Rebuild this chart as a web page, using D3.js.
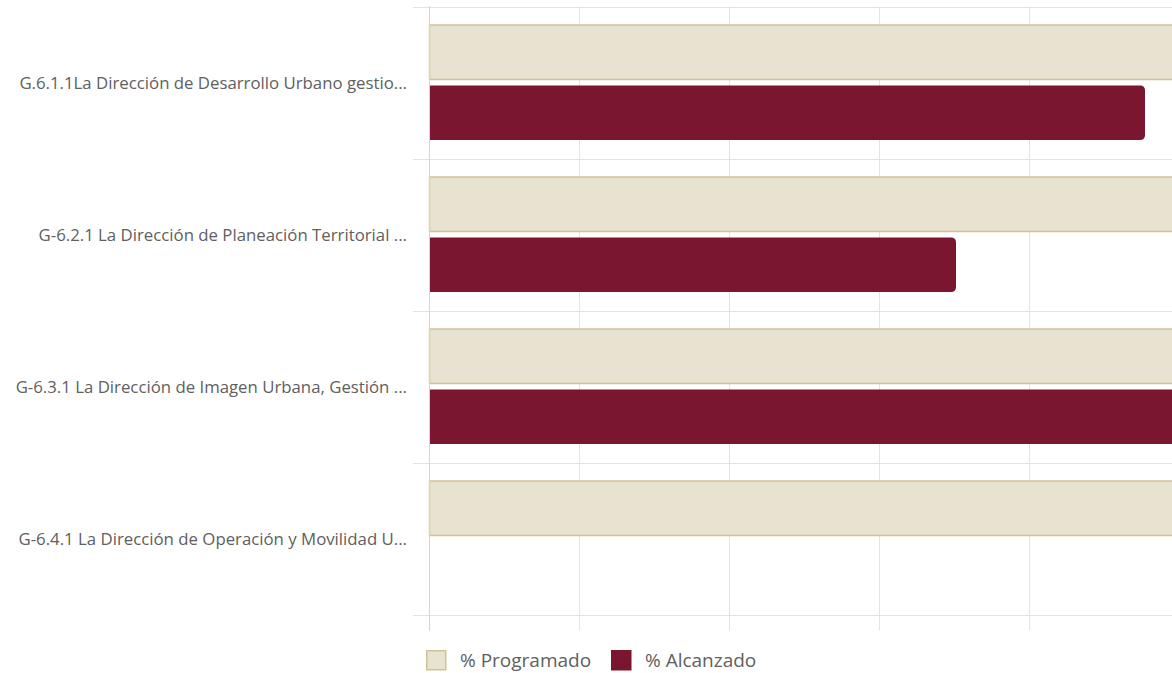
<!DOCTYPE html>
<html>
<head>
<meta charset="utf-8">
<script src="https://cdn.jsdelivr.net/npm/d3@7"></script>
<style>
  body { margin: 0; background: #fff; }
  svg { display: block; font-family: "Open Sans", sans-serif; }
</style>
</head>
<body>
<div id="chart"></div>
<script>
// data
var categories = [
  "G.6.1.1La Dirección de Desarrollo Urbano gestio...",
  "G-6.2.1 La Dirección de Planeación Territorial ...",
  "G-6.3.1 La Dirección de Imagen Urbana, Gestión ...",
  "G-6.4.1 La Dirección de Operación y Movilidad U..."
];
var programado = [100, 100, 100, 100];
var alcanzado = [95.4, 70.2, 100, 0];
var seriesNames = ["% Programado", "% Alcanzado"];
var xTicks = [0, 20, 40, 60, 80, 100];

var svgWidth = 1172;
var svgHeight = 673;

var margin = { top: 6.5, left: 429.5, bottom: 58.5 };
var plotRight = 1179.5;

var svg = d3.select("#chart")
  .append("svg")
  .attr("width", svgWidth)
  .attr("height", svgHeight);

var xScale = d3.scaleLinear()
  .domain([0, 100])
  .range([margin.left, plotRight]);

var yScale = d3.scaleBand()
  .domain(categories)
  .range([margin.top, svgHeight - margin.bottom])
  .paddingInner(0.243)
  .paddingOuter(0.1215);

var ySub = d3.scaleBand()
  .domain(seriesNames)
  .range([0, yScale.bandwidth()])
  .paddingInner(0.1);

// category gridlines (band boundaries)
var bounds = categories.map(function(c) { return yScale(c) - yScale.step() * yScale.paddingInner() / 2; });
bounds[0] = margin.top;
bounds.push(svgHeight - margin.bottom);

svg.append("g").selectAll("line")
  .data(bounds)
  .enter()
  .append("line")
  .attr("x1", 413)
  .attr("x2", svgWidth)
  .attr("y1", function(d) { return Math.round(d) + 0.5; })
  .attr("y2", function(d) { return Math.round(d) + 0.5; })
  .attr("stroke", "#e3e3e3")
  .attr("stroke-width", 1);

// vertical gridlines + ticks below axis
svg.append("g").selectAll("line")
  .data(xTicks)
  .enter()
  .append("line")
  .attr("x1", function(d) { return xScale(d); })
  .attr("x2", function(d) { return xScale(d); })
  .attr("y1", margin.top)
  .attr("y2", svgHeight - margin.bottom + 16)
  .attr("stroke", function(d) { return d === 0 ? "#d4d4d4" : "#e3e3e3"; })
  .attr("stroke-width", 1);

function barPath(x0, y0, w, h, r) {
  if (w <= 0) return "";
  r = Math.min(r, w);
  return "M" + x0 + "," + y0 +
    "H" + (x0 + w - r) +
    "Q" + (x0 + w) + "," + y0 + " " + (x0 + w) + "," + (y0 + r) +
    "V" + (y0 + h - r) +
    "Q" + (x0 + w) + "," + (y0 + h) + " " + (x0 + w - r) + "," + (y0 + h) +
    "H" + x0 + "Z";
}

var x0 = xScale(0);

// programado bars
svg.append("g").selectAll("path")
  .data(categories)
  .enter()
  .append("path")
  .attr("d", function(d, i) {
    var y = yScale(d) + ySub(seriesNames[0]);
    return barPath(x0, y, xScale(programado[i]) - x0, ySub.bandwidth(), 5);
  })
  .attr("fill", "#e8e2d1")
  .attr("stroke", "#d2c298")
  .attr("stroke-width", 1.5);

// alcanzado bars
svg.append("g").selectAll("path")
  .data(categories)
  .enter()
  .append("path")
  .attr("d", function(d, i) {
    var y = yScale(d) + ySub(seriesNames[1]);
    return barPath(x0, y, xScale(alcanzado[i]) - x0, ySub.bandwidth(), 5);
  })
  .attr("fill", "#7b1631");

// redraw left axis line on top
svg.append("line")
  .attr("x1", x0).attr("x2", x0)
  .attr("y1", margin.top).attr("y2", svgHeight - margin.bottom + 16)
  .attr("stroke", "#d4d4d4");

// category labels
svg.append("g").selectAll("text")
  .data(categories)
  .enter()
  .append("text")
  .attr("x", 407)
  .attr("y", function(d) { return yScale(d) + yScale.bandwidth() / 2; })
  .attr("text-anchor", "end")
  .attr("dominant-baseline", "central")
  .attr("font-size", "16.8px")
  .attr("fill", "#606060")
  .text(function(d) { return d; });

// legend
var legendColors = [["#e8e2d1", "#d2c298"], ["#7b1631", "#7b1631"]];
var legendX = [426, 611];
var legend = svg.append("g").selectAll("g")
  .data(seriesNames)
  .enter()
  .append("g")
  .attr("transform", function(d, i) { return "translate(" + legendX[i] + ",650)"; });

legend.append("rect")
  .attr("x", 0.75).attr("y", 0.75)
  .attr("width", 19).attr("height", 19)
  .attr("fill", function(d, i) { return legendColors[i][0]; })
  .attr("stroke", function(d, i) { return legendColors[i][1]; })
  .attr("stroke-width", 1.5);

legend.append("text")
  .attr("x", 34)
  .attr("y", 10)
  .attr("dominant-baseline", "central")
  .attr("font-size", "19px")
  .attr("fill", "#606060")
  .text(function(d) { return d; });
</script>
</body>
</html>
